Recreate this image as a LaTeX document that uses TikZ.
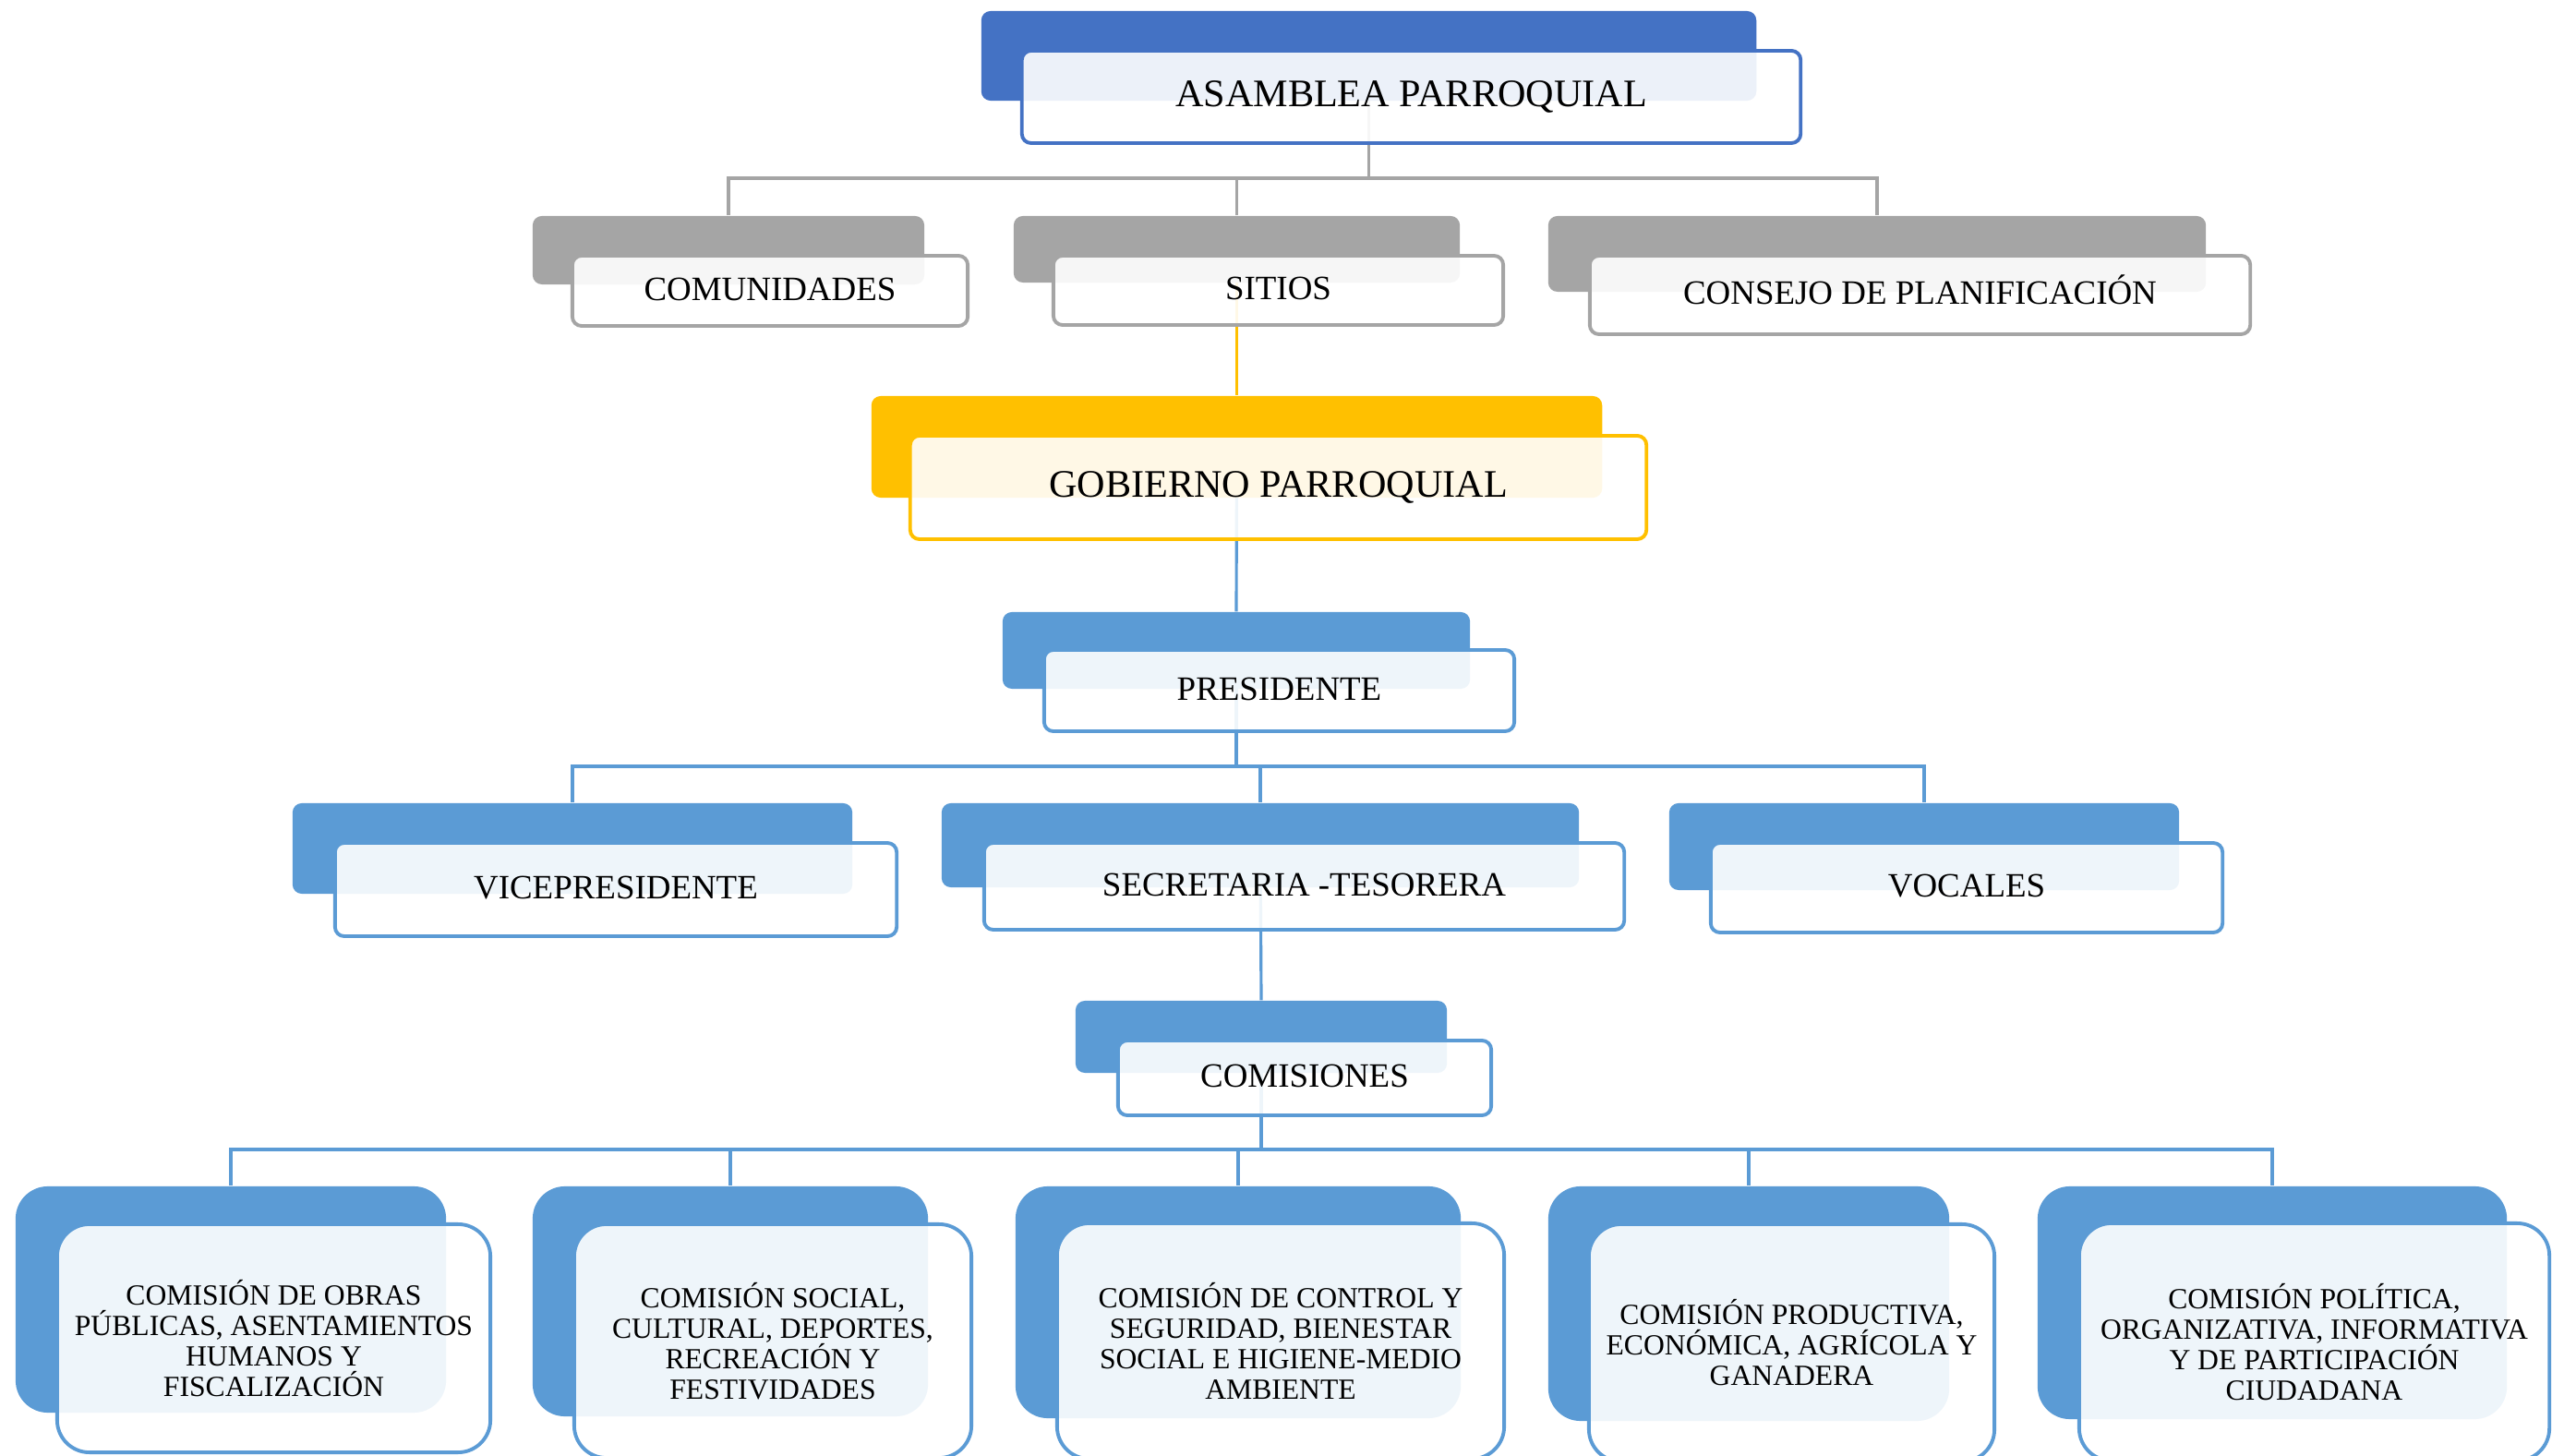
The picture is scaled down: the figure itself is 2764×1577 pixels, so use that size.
\documentclass[tikz,border=0pt]{standalone}
\usepackage{fontspec}
\setmainfont{Liberation Serif}
\definecolor{cBlueD}{HTML}{4472C4}
\definecolor{cGray}{HTML}{A5A5A5}
\definecolor{cGold}{HTML}{FFC000}
\definecolor{cBlue}{HTML}{5B9BD5}
\pgfdeclarelayer{bg}
\pgfsetlayers{bg,main}
\tikzset{
  backbox/.style={draw=none, fill=#1, rounded corners=0.1cm, inner sep=0pt},
  frontbox/.style={draw=#1, line width=1.1pt, fill=white, fill opacity=0.9, text opacity=1,
    rounded corners=0.1cm, inner sep=0pt, align=center},
  bigr/.style={rounded corners=0.35cm},
  fL/.style={font=\fontsize{12}{14}\selectfont, text height=1.45ex, text depth=0.2ex},
  fM/.style={font=\fontsize{10.5}{12}\selectfont, text height=1.45ex, text depth=0.2ex},
  fS/.style={font=\fontsize{9}{9.4}\selectfont},
  conn/.style={line width=0.9pt, draw=#1},
}
\begin{document}
\begin{tikzpicture}[x=0.01cm, y=-0.01cm]
\useasboundingbox (0,0) rectangle (2764,1577);

% ASAMBLEA
\node[backbox=cBlueD, minimum width=8.39cm, minimum height=0.97cm] (asB) at (1482.5,60.5) {};
\node[frontbox=cBlueD, fL, minimum width=8.43cm, minimum height=1.00cm] (asF) at (1528.5,105) {ASAMBLEA PARROQUIAL};

% row 2
\node[backbox=cGray, minimum width=4.24cm, minimum height=0.74cm] (comB) at (789,271) {};
\node[frontbox=cGray, fM, minimum width=4.28cm, minimum height=0.76cm] (comF) at (834,315) {COMUNIDADES};
\node[backbox=cGray, minimum width=4.83cm, minimum height=0.72cm] (sitB) at (1339.5,270) {};
\node[frontbox=cGray, fM, minimum width=4.87cm, minimum height=0.75cm] (sitF) at (1384.5,314.5) {SITIOS};
\node[backbox=cGray, minimum width=7.12cm, minimum height=0.82cm] (conB) at (2033,275) {};
\node[frontbox=cGray, fM, minimum width=7.15cm, minimum height=0.85cm] (conF) at (2079.5,319.5) {CONSEJO DE PLANIFICACIÓN};

% GOBIERNO
\node[backbox=cGold, minimum width=7.91cm, minimum height=1.10cm] (gobB) at (1339.5,484) {};
\node[frontbox=cGold, fL, minimum width=7.97cm, minimum height=1.12cm] (gobF) at (1384.5,528) {GOBIERNO PARROQUIAL};

% PRESIDENTE
\node[backbox=cBlue, minimum width=5.06cm, minimum height=0.83cm] (preB) at (1339,704.5) {};
\node[frontbox=cBlue, fM, minimum width=5.09cm, minimum height=0.88cm] (preF) at (1385.5,748) {PRESIDENTE};

% row 4
\node[backbox=cBlue, minimum width=6.06cm, minimum height=0.98cm] (vicB) at (620,919) {};
\node[frontbox=cBlue, fM, minimum width=6.08cm, minimum height=1.01cm] (vicF) at (667,963.5) {VICEPRESIDENTE};
\node[backbox=cBlue, minimum width=6.90cm, minimum height=0.91cm] (secB) at (1365,915.5) {};
\node[frontbox=cBlue, fM, minimum width=6.93cm, minimum height=0.94cm] (secF) at (1412.5,960) {SECRETARIA -TESORERA};
\node[backbox=cBlue, minimum width=5.52cm, minimum height=0.94cm] (vocB) at (2084,917) {};
\node[frontbox=cBlue, fM, minimum width=5.54cm, minimum height=0.97cm] (vocF) at (2130,961.5) {VOCALES};

% COMISIONES
\node[backbox=cBlue, minimum width=4.02cm, minimum height=0.78cm] (cmsB) at (1366,1123) {};
\node[frontbox=cBlue, fM, minimum width=4.04cm, minimum height=0.81cm] (cmsF) at (1413,1167.5) {COMISIONES};

% row 6
\node[backbox=cBlue, bigr, minimum width=4.66cm, minimum height=2.45cm] (c1B) at (250,1407.5) {};
\node[frontbox=cBlue, bigr, fS, minimum width=4.69cm, minimum height=2.47cm] (c1F) at (296.5,1449.5)
  {COMISIÓN DE OBRAS\\PÚBLICAS, ASENTAMIENTOS\\HUMANOS Y\\FISCALIZACIÓN};
\node[backbox=cBlue, bigr, minimum width=4.28cm, minimum height=2.49cm] (c2B) at (791,1409.5) {};
\node[frontbox=cBlue, bigr, fS, minimum width=4.30cm, minimum height=2.53cm] (c2F) at (837,1452.5)
  {COMISIÓN SOCIAL,\\CULTURAL, DEPORTES,\\RECREACIÓN Y\\FESTIVIDADES};
\node[backbox=cBlue, bigr, minimum width=4.82cm, minimum height=2.51cm] (c3B) at (1341,1410.5) {};
\node[frontbox=cBlue, bigr, fS, minimum width=4.84cm, minimum height=2.55cm] (c3F) at (1387,1452.5)
  {COMISIÓN DE CONTROL Y\\SEGURIDAD, BIENESTAR\\SOCIAL E HIGIENE-MEDIO\\AMBIENTE};
\node[backbox=cBlue, bigr, minimum width=4.34cm, minimum height=2.54cm] (c4B) at (1894,1412) {};
\node[frontbox=cBlue, bigr, fS, minimum width=4.39cm, minimum height=2.57cm] (c4F) at (1940.5,1454.5)
  {COMISIÓN PRODUCTIVA,\\ECONÓMICA, AGRÍCOLA Y\\GANADERA};
\node[backbox=cBlue, bigr, minimum width=5.08cm, minimum height=2.52cm] (c5B) at (2461,1411) {};
\node[frontbox=cBlue, bigr, fS, minimum width=5.09cm, minimum height=2.57cm] (c5F) at (2506.5,1453.5)
  {COMISIÓN POLÍTICA,\\ORGANIZATIVA, INFORMATIVA\\Y DE PARTICIPACIÓN\\CIUDADANA};

% connectors
\coordinate (busA) at (0,193);
\coordinate (busB) at (0,830);
\coordinate (busC) at (0,1245);
\begin{pgfonlayer}{bg}
\draw[conn=cGray] (asB.center) -- (asB.center |- busA);
\draw[conn=cGray] (comB.north) -- (comB.north |- busA) -- (conB.north |- busA) -- (conB.north);
\draw[conn=cGray] (sitB.north) -- (sitB.north |- busA);
\draw[conn=cGold] (sitB.center) -- (gobB.north);
\draw[conn=cBlue] (gobB.center) -- (preB.north);
\draw[conn=cBlue] (preB.center) -- (preB.center |- busB);
\draw[conn=cBlue] (vicB.north) -- (vicB.north |- busB) -- (vocB.north |- busB) -- (vocB.north);
\draw[conn=cBlue] (secB.north |- busB) -- (secB.north);
\draw[conn=cBlue] (secB.center) -- (cmsB.north);
\draw[conn=cBlue] (cmsB.center) -- (cmsB.center |- busC);
\draw[conn=cBlue] (c1B.north) -- (c1B.north |- busC) -- (c5B.north |- busC) -- (c5B.north);
\draw[conn=cBlue] (c2B.north |- busC) -- (c2B.north);
\draw[conn=cBlue] (c3B.north |- busC) -- (c3B.north);
\draw[conn=cBlue] (c4B.north |- busC) -- (c4B.north);
\end{pgfonlayer}
\end{tikzpicture}
\end{document}
